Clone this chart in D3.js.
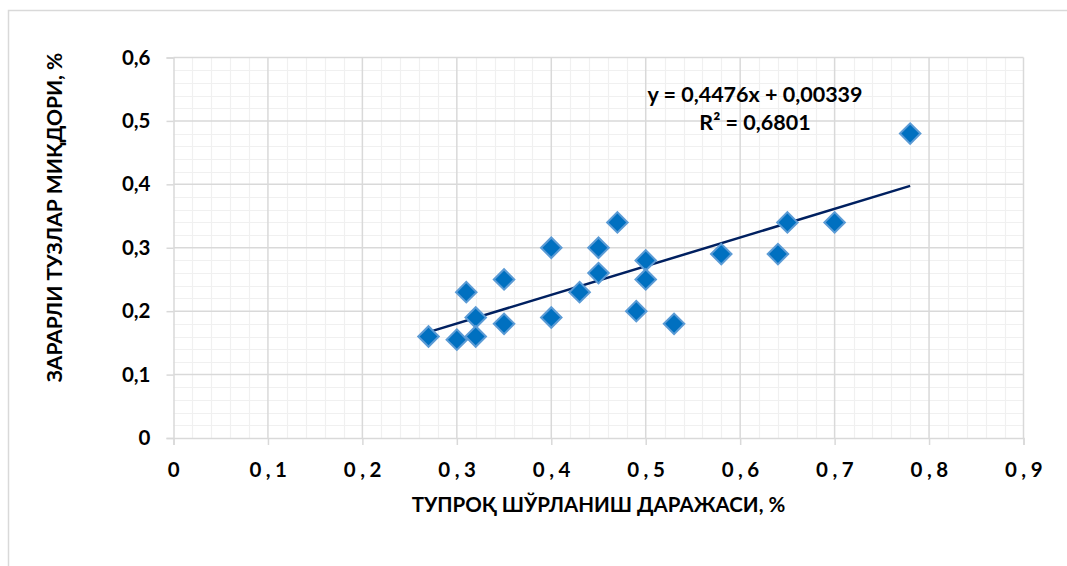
<!DOCTYPE html>
<html>
<head>
<meta charset="utf-8">
<script src="https://cdn.jsdelivr.net/npm/d3@7"></script>
<style>
  html, body { margin: 0; padding: 0; background: #ffffff; }
  svg { display: block; }
  text { font-family: Lato, "Open Sans", "DejaVu Sans", sans-serif; font-weight: 700; fill: #000; }
</style>
</head>
<body>
<svg id="chart" width="1067" height="566"></svg>
<script>
// Soil salinity level (x, %) vs. harmful salt content (y, %)
const salinity = [0.27, 0.30, 0.31, 0.32, 0.32, 0.35, 0.35, 0.40, 0.40, 0.43, 0.45,
                  0.45, 0.47, 0.49, 0.50, 0.50, 0.53, 0.58, 0.64, 0.65, 0.70, 0.78];
const harmfulSalts = [0.16, 0.155, 0.23, 0.19, 0.16, 0.25, 0.18, 0.30, 0.19, 0.23, 0.30,
                      0.26, 0.34, 0.20, 0.28, 0.25, 0.18, 0.29, 0.29, 0.34, 0.34, 0.48];
const xTicks = [0, 0.1, 0.2, 0.3, 0.4, 0.5, 0.6, 0.7, 0.8, 0.9];
const yTicks = [0, 0.1, 0.2, 0.3, 0.4, 0.5, 0.6];
const xTitle = "ТУПРОҚ ШЎРЛАНИШ ДАРАЖАСИ, %";
const yTitle = "ЗАРАРЛИ ТУЗЛАР МИҚДОРИ, %";
const trendLabel = ["y = 0,4476x + 0,00339", "R² = 0,6801"];

const points = salinity.map((x, i) => ({ x, y: harmfulSalts[i] }));

const svg = d3.select("#chart");
const W = 1067, H = 566;
const plot = { left: 173.5, right: 1023.5, top: 57.5, bottom: 438 };

svg.append("rect").attr("width", W).attr("height", H).attr("fill", "#fff");
// chart frame
svg.append("rect")
  .attr("x", 8.5).attr("y", 10.5).attr("width", 1100).attr("height", 600)
  .attr("fill", "none").attr("stroke", "#d9d9d9").attr("stroke-width", 1.5);

const x = d3.scaleLinear().domain([0, 0.9]).range([plot.left, plot.right]);
const y = d3.scaleLinear().domain([0, 0.6]).range([plot.bottom, plot.top]);

const fmt = v => v === 0 ? "0" : d3.format(".1f")(v).replace(".", ",");

// minor gridlines every 0.02
const minorX = d3.range(1, 45).map(i => i * 0.02).filter(v => Math.abs(v * 10 - Math.round(v * 10)) > 1e-6);
const minorY = d3.range(1, 30).map(i => i * 0.02).filter(v => Math.abs(v * 10 - Math.round(v * 10)) > 1e-6);
const grid = svg.append("g");
grid.selectAll(".mx").data(minorX).join("line")
  .attr("x1", d => Math.round(x(d)) + 0.5).attr("x2", d => Math.round(x(d)) + 0.5)
  .attr("y1", plot.top).attr("y2", plot.bottom)
  .attr("stroke", "#f0f0f0").attr("stroke-width", 1.2);
grid.selectAll(".my").data(minorY).join("line")
  .attr("y1", d => Math.round(y(d)) + 0.5).attr("y2", d => Math.round(y(d)) + 0.5)
  .attr("x1", plot.left).attr("x2", plot.right)
  .attr("stroke", "#f0f0f0").attr("stroke-width", 1.2);

// major gridlines
grid.selectAll(".Mx").data(xTicks.slice(1)).join("line")
  .attr("x1", d => x(d)).attr("x2", d => x(d))
  .attr("y1", plot.top).attr("y2", plot.bottom)
  .attr("stroke", "#d9d9d9").attr("stroke-width", 1.5);
grid.selectAll(".My").data(yTicks.slice(1)).join("line")
  .attr("y1", d => y(d)).attr("y2", d => y(d))
  .attr("x1", plot.left).attr("x2", plot.right)
  .attr("stroke", "#d9d9d9").attr("stroke-width", 1.5);

// axes
const xAxis = svg.append("g").attr("transform", `translate(0,${plot.bottom})`)
  .call(d3.axisBottom(x).tickValues(xTicks).tickSize(7).tickPadding(17).tickFormat(fmt));
const yAxis = svg.append("g").attr("transform", `translate(${plot.left},0)`)
  .call(d3.axisLeft(y).tickValues(yTicks).tickSize(7).tickPadding(16).tickFormat(fmt));
[xAxis, yAxis].forEach(a => {
  a.select(".domain").attr("stroke", "#d9d9d9").attr("stroke-width", 1.5);
  a.selectAll(".tick line").attr("stroke", "#d9d9d9").attr("stroke-width", 1.5);
  a.selectAll(".tick text").style("font-family", "Lato, 'Open Sans', sans-serif")
    .style("font-weight", 700).style("font-size", "20.5px").attr("fill", "#000");
});
xAxis.selectAll(".tick text").style("letter-spacing", "4.5px").attr("dx", "2px");

// linear least-squares trendline
const mx = d3.mean(points, d => d.x), my = d3.mean(points, d => d.y);
const slope = d3.sum(points, d => (d.x - mx) * (d.y - my)) / d3.sum(points, d => (d.x - mx) ** 2);
const intercept = my - slope * mx;
const [x0, x1] = d3.extent(points, d => d.x);
svg.append("line")
  .attr("x1", x(x0)).attr("y1", y(slope * x0 + intercept))
  .attr("x2", x(x1)).attr("y2", y(slope * x1 + intercept))
  .attr("stroke", "#002060").attr("stroke-width", 2.5);

// diamond markers
svg.append("g").selectAll("path").data(points).join("path")
  .attr("d", d3.symbol(d3.symbolSquare, 210))
  .attr("transform", d => `translate(${x(d.x)},${y(d.y)}) rotate(45)`)
  .attr("fill", "#0070c0").attr("stroke", "#5b9bd5").attr("stroke-width", 2);

// trendline equation
svg.append("text").attr("x", 755).attr("y", 102)
  .attr("text-anchor", "middle").style("font-size", "21.5px").text(trendLabel[0]);
svg.append("text").attr("x", 755).attr("y", 130)
  .attr("text-anchor", "middle").style("font-size", "21.5px").text(trendLabel[1]);

// axis titles
svg.append("text").attr("x", (plot.left + plot.right) / 2).attr("y", 512)
  .attr("text-anchor", "middle").style("font-size", "20.5px").text(xTitle);
svg.append("text").attr("transform", "translate(61.5,217.5) rotate(-90)")
  .attr("text-anchor", "middle").style("font-size", "21px").text(yTitle);
</script>
</body>
</html>
